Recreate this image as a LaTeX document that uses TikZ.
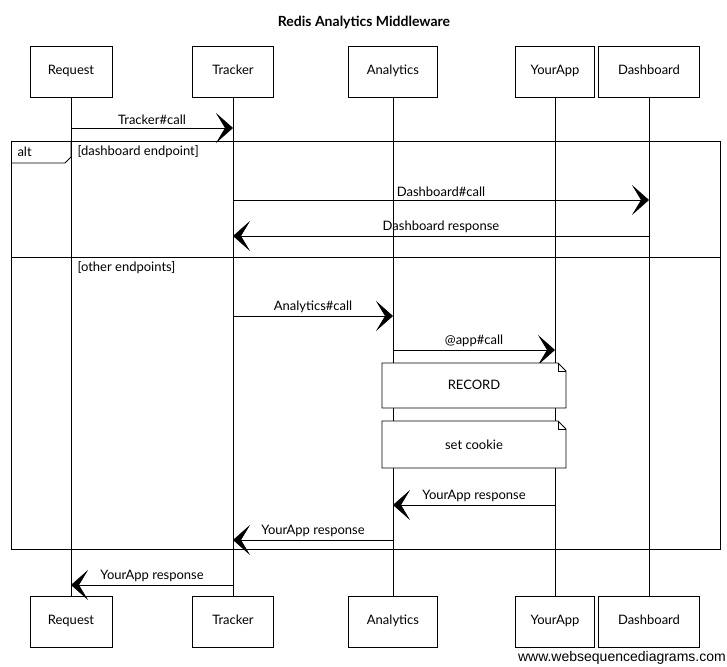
\documentclass[tikz,border=0pt]{standalone}
\usepackage{fontspec}
\setmainfont{Lato}
\newfontfamily\footfont{Liberation Sans}
\usepackage{tikz}
\usetikzlibrary{positioning,arrows.meta}
\tikzset{actor/.style={draw, thick, minimum height=51pt, inner sep=0pt, text height=9pt, text depth=3pt, font=\fontsize{13}{15}\selectfont}}
\tikzset{lifeline/.style={draw, thin}}
\tikzset{msg/.style={draw, semithick, -{Stealth[length=17pt,width=30pt,inset=9pt]}, font=\fontsize{13}{15}\selectfont}}
\tikzset{notebox/.style={draw, thick, fill=white}}

\begin{document}
\begin{tikzpicture}[x=1pt,y=-1pt,node distance=498pt]
  \useasboundingbox (0,0) rectangle (727,666);
  % Title on top, participants below it.
  \node[font=\bfseries\fontsize{14}{16}\selectfont] (title) at (364,22) {Redis Analytics Middleware};
  \node[actor, minimum width=82pt] (req) at (71,72) {Request};
  \node[actor, minimum width=81pt] (trk) at (233,72) {Tracker};
  \node[actor, minimum width=89pt] (ana) at (393,72) {Analytics};
  \node[actor, minimum width=79pt] (app) at (555,72) {YourApp};
  \node[actor, minimum width=101pt] (dash) at (649,72) {Dashboard};
  % The same participants repeated at the bottom.
  \node[actor, minimum width=82pt] (reqB) [below = of req] {Request};
  \node[actor, minimum width=81pt] (trkB) [below = of trk] {Tracker};
  \node[actor, minimum width=89pt] (anaB) [below = of ana] {Analytics};
  \node[actor, minimum width=79pt] (appB) [below = of app] {YourApp};
  \node[actor, minimum width=101pt] (dashB) [below = of dash] {Dashboard};
  \path (req) edge [lifeline] (reqB)
        (trk) edge [lifeline] (trkB)
        (ana) edge [lifeline] (anaB)
        (app) edge [lifeline] (appB)
        (dash) edge [lifeline] (dashB);

  % The alt frame with its tab and both guards.
  \draw[thick] (11,141) rectangle (720,549);
  \draw[thick] (11,163) -- (65,163) -- (71,157) -- (71,141);
  \draw[thick] (11,257) -- (720,257);
  \node[anchor=west, font=\fontsize{13}{15}\selectfont] (alt) at (14,152) {alt};
  \node[anchor=west, font=\fontsize{13}{15}\selectfont] (g1) at (74,152) {[dashboard endpoint]};
  \node[anchor=west, font=\fontsize{13}{15}\selectfont] (g2) at (74,268) {[other endpoints]};

  % Points on the lifelines where the messages start and end.
  \foreach \name/\who/\y in {m1a/req/128, m1b/trk/128, m2a/trk/200, m2b/dash/200,
      m3a/dash/236, m3b/trk/236, m4a/trk/316, m4b/ana/316, m5a/ana/350, m5b/app/350,
      m6a/app/505, m6b/ana/505, m7a/ana/540, m7b/trk/540, m8a/trk/585, m8b/req/585}
    \coordinate (\name) at (\who |- 0,\y);

  \path (m1a) edge [msg] node[above] {Tracker\#call} (m1b);
  \path (m2a) edge [msg] node[above] {Dashboard\#call} (m2b);
  \path (m3a) edge [msg] node[above] {Dashboard response} (m3b);
  \path (m4a) edge [msg] node[above] {Analytics\#call} (m4b);
  \path (m5a) edge [msg] node[above] {@app\#call} (m5b);
  \path (m6a) edge [msg] node[above] {YourApp response} (m6b);
  \path (m7a) edge [msg] node[above] {YourApp response} (m7b);
  \path (m8a) edge [msg] node[above] {YourApp response} (m8b);

  % Notes over Analytics and YourApp.
  \draw[notebox] (382,363) -- (558,363) -- (566,371) -- (566,408) -- (382,408) -- cycle;
  \draw[thin] (558,363) -- (558,371) -- (566,371);
  \node[font=\fontsize{13}{15}\selectfont] (rec) at (474,385) {RECORD};
  \draw[notebox] (382,421) -- (558,421) -- (566,429) -- (566,468) -- (382,468) -- cycle;
  \draw[thin] (558,421) -- (558,429) -- (566,429);
  \node[font=\fontsize{13}{15}\selectfont] (cookie) at (474,445) {set cookie};

  \node[anchor=south east, inner sep=1pt, font=\footfont\fontsize{14}{16}\selectfont] (foot) at (727,666) {www.websequencediagrams.com};
\end{tikzpicture}
\end{document}
